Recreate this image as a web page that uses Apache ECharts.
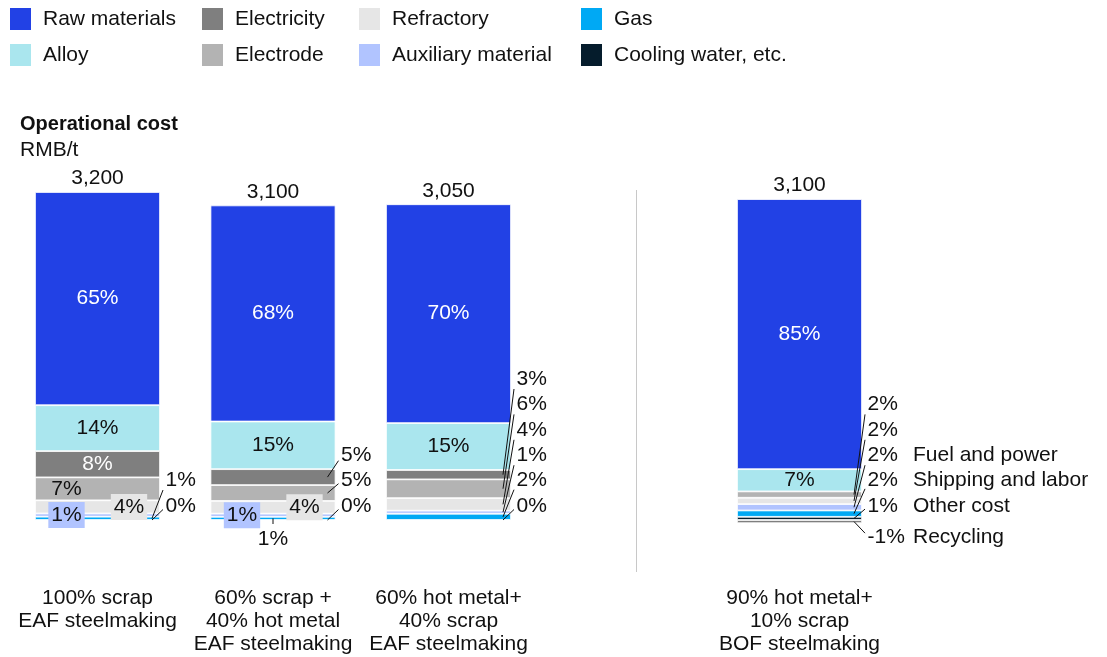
<!DOCTYPE html>
<html>
<head>
<meta charset="utf-8">
<script src="https://cdn.jsdelivr.net/npm/echarts@6/dist/echarts.min.js"></script>
<style>
  html, body { margin: 0; padding: 0; background: #ffffff; }
  #chart { width: 1107px; height: 657px; }
</style>
</head>
<body>
<div id="chart"></div>
<script>
// Steelmaking routes (an empty slot separates the BOF route from the EAF routes)
const categories = [
  '100% scrap\nEAF steelmaking',
  '60% scrap +\n40% hot metal\nEAF steelmaking',
  '60% hot metal+\n40% scrap\nEAF steelmaking',
  '',
  '90% hot metal+\n10% scrap\nBOF steelmaking'
];
// Operational cost per route, RMB/t
const totals = [3200, 3100, 3050, null, 3100];

// Cost shares, % of each route's total
const rawMaterials = [65, 68, 70, null, 85];
const alloy        = [14, 15, 15, null, 7];
const electricity  = [8, 5, 3, null, -1];
const electrode    = [7, 5, 6, null, 2];
const refractory   = [4, 4, 4, null, 2];
const auxiliary    = [1, 1, 1, null, 2];
const gas          = [1, 1, 2, null, 2];
const coolingWater = [0, 0, 0, null, 1];

// The BOF route reports its small items under its own names
const BOF_INDEX = 4;
const bofSegmentNames = {
  'Auxiliary material': 'Fuel and power',
  'Gas': 'Shipping and labor',
  'Cooling water, etc.': 'Other cost',
  'Electricity': 'Recycling'
};

const FONT = "'Liberation Sans', Arial, Helvetica, sans-serif";
const TEXT = '#111111';
const BAR_WIDTH = 125;

// Stack order, bottom to top; "modes" says how each segment is labelled per route
const SERIES = [
  { name: 'Cooling water, etc.', shares: coolingWater, color: '#051c2c', modes: ['callout', 'callout', 'callout', null, 'callout'] },
  { name: 'Gas',                 shares: gas,          color: '#00a9f4', modes: ['callout', 'below', 'callout', null, 'callout'] },
  { name: 'Auxiliary material',  shares: auxiliary,    color: '#b1c4ff', modes: ['boxLeft', 'boxLeft', 'callout', null, 'callout'] },
  { name: 'Refractory',          shares: refractory,   color: '#e6e6e6', modes: ['boxRight', 'boxRight', 'callout', null, 'callout'] },
  { name: 'Electrode',           shares: electrode,    color: '#b3b3b3', modes: ['left', 'callout', 'callout', null, 'callout'] },
  { name: 'Electricity',         shares: electricity,  color: '#7f7f7f', modes: ['light', 'callout', 'callout', null, 'callout'] },
  { name: 'Alloy',               shares: alloy,        color: '#aae6ee', modes: ['dark', 'dark', 'dark', null, 'dark'] },
  { name: 'Raw materials',       shares: rawMaterials, color: '#2241e5', modes: ['light', 'light', 'light', null, 'light'] }
];

function segmentValue(ci, share) {
  return totals[ci] == null || share == null ? null : totals[ci] * share / 100;
}

function labelFor(mode, share, color) {
  const base = { show: true, position: 'inside', formatter: share + '%', fontSize: 21, fontFamily: FONT, color: TEXT };
  switch (mode) {
    case 'light': return Object.assign(base, { color: '#ffffff' });
    case 'dark': return base;
    case 'left': return Object.assign(base, { offset: [-31, 0] });
    case 'boxLeft': return Object.assign(base, { offset: [-31, 0], backgroundColor: color, padding: [3, 3, 2, 3], lineHeight: 21 });
    case 'boxRight': return Object.assign(base, { offset: [31.5, 0], backgroundColor: color, padding: [3, 3, 2, 3], lineHeight: 21 });
    default: return { show: false };
  }
}

// Segments labelled outside the bar, with a leader line
const callouts = [];
categories.forEach((_, ci) => {
  if (totals[ci] == null) return;
  let posBase = 0, negBase = 0, slot = 0;
  SERIES.forEach(s => {
    const v = segmentValue(ci, s.shares[ci]);
    let lo, hi;
    if (v >= 0) { lo = posBase; hi = posBase + v; posBase = hi; }
    else { hi = negBase; lo = negBase + v; negBase = lo; }
    const mode = s.modes[ci];
    if (mode === 'callout' || mode === 'below') {
      callouts.push({
        cat: ci,
        mid: (lo + hi) / 2,
        text: s.shares[ci] + '%',
        name: ci === BOF_INDEX ? (bofSegmentNames[s.name] || '') : '',
        place: mode === 'below' ? 'below' : (v < 0 ? 'under' : slot++)
      });
    }
  });
});

function renderCallout(params, api) {
  const c = callouts[params.dataIndex];
  const p = api.coord([c.cat, c.mid]);
  const base = api.coord([c.cat, 0])[1];
  const right = p[0] + BAR_WIDTH / 2;
  const textStyle = { fill: TEXT, fontSize: 21, fontFamily: FONT, verticalAlign: 'middle' };
  const children = [];
  if (c.place === 'below') {
    const ly = base + 19;
    children.push({ type: 'line', shape: { x1: p[0], y1: p[1], x2: p[0], y2: base + 4 }, style: { stroke: TEXT, lineWidth: 1 } });
    children.push({ type: 'text', style: Object.assign({ text: c.text, x: p[0], y: ly, align: 'center' }, textStyle) });
  } else {
    const ly = c.place === 'under' ? base + 17 : base - 14 - c.place * 25.4;
    const ey = ly + Math.max(-4, Math.min(10, (p[1] - ly) * 0.25));
    children.push({ type: 'line', shape: { x1: right - 8, y1: p[1], x2: right + 3, y2: ey }, style: { stroke: TEXT, lineWidth: 1 } });
    children.push({ type: 'text', style: Object.assign({ text: c.text, x: right + 5.5, y: ly, align: 'left' }, textStyle) });
    if (c.name) {
      children.push({ type: 'text', style: Object.assign({ text: c.name, x: right + 51, y: ly, align: 'left' }, textStyle) });
    }
  }
  return { type: 'group', children };
}

const barSeries = SERIES.map(s => ({
  name: s.name,
  type: 'bar',
  stack: 'cost',
  barWidth: BAR_WIDTH,
  itemStyle: { color: s.color, borderColor: '#ffffff', borderWidth: 0.8 },
  emphasis: { disabled: true },
  data: s.shares.map((share, ci) => {
    const v = segmentValue(ci, share);
    if (v == null) return null;
    return { value: v, label: labelFor(s.modes[ci], share, s.color) };
  })
}));

// Zero-height cap on each stack carrying the route total
const totalSeries = {
  name: 'Total',
  type: 'bar',
  stack: 'cost',
  barWidth: BAR_WIDTH,
  itemStyle: { color: 'transparent', borderWidth: 0 },
  emphasis: { disabled: true },
  label: {
    show: true, position: 'top', distance: 3, fontSize: 21, fontFamily: FONT, color: TEXT,
    formatter: p => totals[p.dataIndex].toLocaleString('en-US')
  },
  data: totals.map(t => (t == null ? null : 0))
};

const calloutSeries = {
  name: 'Callouts',
  type: 'custom',
  coordinateSystem: 'cartesian2d',
  renderItem: renderCallout,
  clip: false,
  silent: true,
  z: 10,
  encode: { x: 0, y: 1 },
  data: callouts.map(c => [c.cat, c.mid])
};

const legendColumns = [
  ['Raw materials', 'Alloy'],
  ['Electricity', 'Electrode'],
  ['Refractory', 'Auxiliary material'],
  ['Gas', 'Cooling water, etc.']
];
const legendLeft = [10, 202, 359, 581];

const chart = echarts.init(document.getElementById('chart'), null, { renderer: 'canvas' });
chart.setOption({
  animation: false,
  backgroundColor: '#ffffff',
  textStyle: { fontFamily: FONT },
  legend: legendColumns.map((cols, i) => ({
    data: cols,
    orient: 'vertical',
    left: legendLeft[i],
    top: 8,
    padding: 0,
    itemWidth: 21,
    itemHeight: 22,
    itemGap: 14,
    icon: 'rect',
    selectedMode: false,
    itemStyle: { borderWidth: 0 },
    textStyle: { fontSize: 21, color: TEXT, fontFamily: FONT, padding: [3, 0, 0, 7] }
  })),
  grid: { left: 9.75, right: 219.75, top: 192, bottom: 116.5, containLabel: false, outerBoundsMode: 'none' },
  xAxis: {
    type: 'category',
    data: categories,
    axisLine: { show: false },
    axisTick: { show: false },
    axisLabel: { interval: 0, margin: 46, fontSize: 21, lineHeight: 23, color: TEXT, fontFamily: FONT }
  },
  yAxis: {
    type: 'value',
    min: -200,
    max: 3200,
    show: false,
    splitLine: { show: false }
  },
  graphic: [
    { type: 'text', style: { text: 'Operational cost', x: 20, y: 124, verticalAlign: 'middle', fill: TEXT, font: 'bold 20px ' + FONT } },
    { type: 'text', style: { text: 'RMB/t', x: 20, y: 150, verticalAlign: 'middle', fill: TEXT, font: '21px ' + FONT } },
    { type: 'line', shape: { x1: 636.5, y1: 190, x2: 636.5, y2: 572 }, style: { stroke: '#c8c8c8', lineWidth: 1 } }
  ],
  series: barSeries.concat([totalSeries, calloutSeries])
});
</script>
</body>
</html>
